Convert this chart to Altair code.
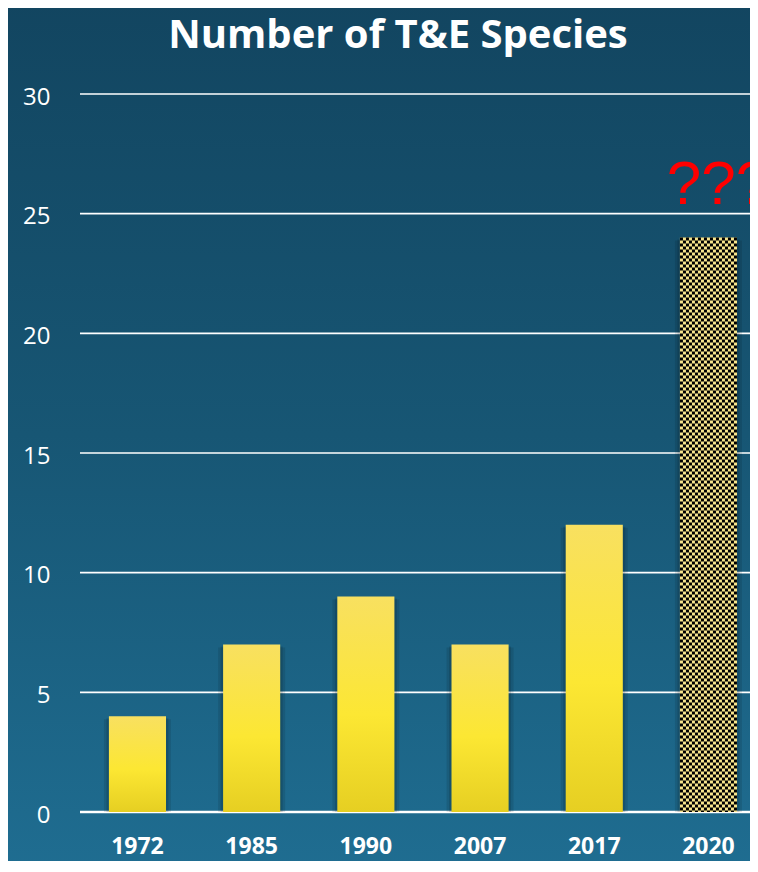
import altair as alt
import pandas as pd

# ---- data ----
years = ["1972", "1985", "1990", "2007", "2017", "2020"]
counts = [4, 7, 9, 7, 12, 24]
projected_year = "2020"
y_ticks = [0, 5, 10, 15, 20, 25, 30]
title_text = "Number of T&E Species"
question_text = "???"
question_y = 25.4

df = pd.DataFrame({"year": years, "count": counts})
df["projected"] = df["year"] == projected_year
solid = df[~df["projected"]]
proj = df[df["projected"]]

ticks_df = pd.DataFrame({"tick": y_ticks})
label_df = pd.DataFrame({"year": [projected_year], "v": [question_y], "t": [question_text]})
title_df = pd.DataFrame({"t": [title_text]})

W, H = 670, 718
PAD_L, PAD_T, PAD_B = 72, 86, 49

x_scale = alt.Scale(domain=years, paddingInner=0.5, paddingOuter=0.1834, align=0.69)
y_scale = alt.Scale(domain=[0, 30], nice=False, zero=True)

x_enc = alt.X("year:N", sort=years, scale=x_scale, title=None,
              axis=alt.Axis(labelAngle=0, labelColor="white", labelFont="Open Sans",
                            labelFontSize=23, labelFontWeight="bold", labelPadding=23,
                            domain=False, ticks=False, tickSize=0, grid=False, zindex=2))
y_enc = alt.Y("count:Q", scale=y_scale, title=None,
              axis=alt.Axis(values=y_ticks, labelColor="white", labelFont="Open Sans",
                            labelFontSize=24, labelPadding=30, labelOffset=3,
                            domain=False, ticks=False, tickSize=0, grid=False, zindex=2))

bg_grad = alt.Gradient(gradient="linear", x1=0, x2=0, y1=0, y2=1,
                       stops=[alt.GradientStop(color="#124560", offset=0),
                              alt.GradientStop(color="#175674", offset=0.5),
                              alt.GradientStop(color="#1f6d91", offset=1)])
bar_grad = alt.Gradient(gradient="linear", x1=0, x2=0, y1=0, y2=1,
                        stops=[alt.GradientStop(color="#f8e060", offset=0),
                               alt.GradientStop(color="#fce733", offset=0.55),
                               alt.GradientStop(color="#e6cf22", offset=1)])

background = alt.Chart(pd.DataFrame({"a": [0]})).mark_rect(fill=bg_grad).encode(
    x=alt.value(-PAD_L), x2=alt.value(W + 10), y=alt.value(-PAD_T - 10), y2=alt.value(H + PAD_B + 10))

title = alt.Chart(title_df).mark_text(
    color="white", font="Open Sans", fontSize=40, fontWeight="bold",
    align="center", baseline="alphabetic"
).encode(x=alt.value(W / 2 - 17), y=alt.value(-46), text="t:N")

grid = alt.Chart(ticks_df).mark_rule(color="white", strokeWidth=1.6).encode(
    y=alt.Y("tick:Q", scale=y_scale), x=alt.value(0), x2=alt.value(W))
zero = alt.Chart(pd.DataFrame({"tick": [0]})).mark_rule(color="white", strokeWidth=2.6).encode(
    y=alt.Y("tick:Q", scale=y_scale), x=alt.value(0), x2=alt.value(W))

base = alt.Chart(df).encode(x=x_enc, y=y_enc, y2=alt.datum(0))
shadow1 = base.mark_bar(color="black", opacity=0.10, size=67, yOffset=3)
shadow2 = base.mark_bar(color="black", opacity=0.12, size=62, yOffset=2)

bars = alt.Chart(solid).mark_bar(color=bar_grad).encode(x=x_enc, y=y_enc, y2=alt.datum(0))
proj_bar = alt.Chart(proj).mark_bar(color="#f7e48c").encode(x=x_enc, y=y_enc, y2=alt.datum(0))

# checker pattern on the projected bar: dashed black columns, alternating phase
n_cols = 19
cell = 3
checker = []
for i in range(n_cols):
    off = (i - (n_cols - 1) / 2) * cell
    checker.append(
        alt.Chart(proj).mark_rule(
            color="black", strokeWidth=cell, strokeDash=[cell, cell],
            strokeDashOffset=cell * (i % 2), strokeCap="butt", xOffset=off
        ).encode(x=x_enc, y=y_enc, y2=alt.datum(0))
    )

question = alt.Chart(label_df).mark_text(
    color="#ff0000", font="Liberation Sans", fontSize=62, baseline="alphabetic", align="center", dx=10
).encode(x=x_enc, y=alt.Y("v:Q", scale=y_scale), text="t:N")

chart = alt.layer(
    background, title, grid, zero, shadow1, shadow2, bars, proj_bar, *checker, question
).properties(
    width=W, height=H,
    autosize=alt.AutoSizeParams(type="none"),
    padding={"left": PAD_L, "top": PAD_T, "right": 0, "bottom": PAD_B},
    background="#175674",
).configure_view(stroke=None)

chart.save("out.html", embed_options={"renderer": "svg", "actions": False})
